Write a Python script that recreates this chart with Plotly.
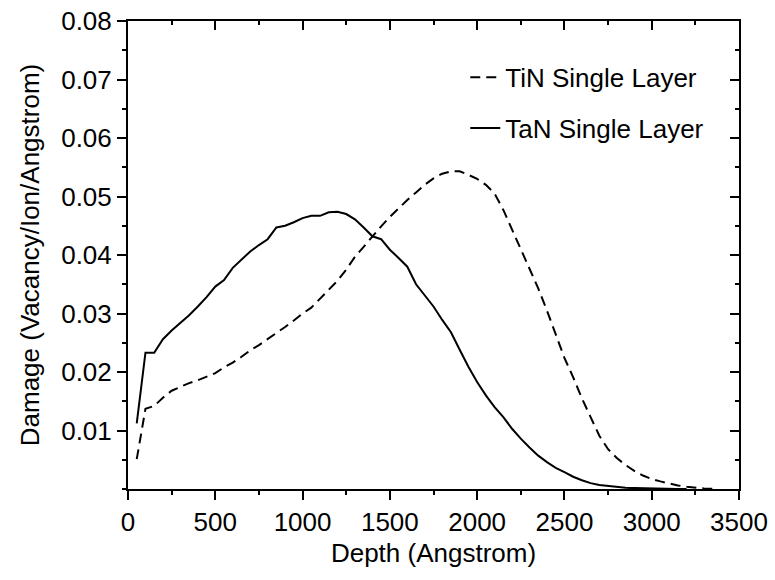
import plotly.graph_objects as go

depth = [50 * i for i in range(1, 68)]  # 50 .. 3350 Angstrom

tin = [0.0051, 0.0137, 0.0142, 0.0156, 0.0168, 0.0175, 0.0181, 0.0186, 0.0192, 0.0198,
       0.0208, 0.0216, 0.0226, 0.0237, 0.0246, 0.0256, 0.0266, 0.0277, 0.0288, 0.0300,
       0.0310, 0.0325, 0.0341, 0.0356, 0.0375, 0.0397, 0.0414, 0.0432, 0.0449, 0.0465,
       0.0480, 0.0494, 0.0507, 0.0520, 0.0531, 0.0539, 0.0543, 0.0543, 0.0537, 0.0530,
       0.0520, 0.0505, 0.0477, 0.0444, 0.0412, 0.0378, 0.0343, 0.0305, 0.0263, 0.0224,
       0.0191, 0.0155, 0.0123, 0.0091, 0.0068, 0.0053, 0.0041, 0.0031, 0.0023, 0.0017,
       0.0013, 0.0009, 0.0006, 0.0004, 0.0002, 0.0001, 0.00005]

tan_depth = [50 * i for i in range(1, 65)]  # 50 .. 3200 Angstrom
tan = [0.0112, 0.0233, 0.0233, 0.0256, 0.0271, 0.0284, 0.0297, 0.0312, 0.0328, 0.0346,
       0.0357, 0.0378, 0.0392, 0.0406, 0.0417, 0.0427, 0.0447, 0.0450, 0.0456, 0.0463,
       0.0467, 0.0467, 0.0473, 0.0474, 0.0470, 0.0461, 0.0447, 0.0432, 0.0427, 0.0409,
       0.0395, 0.0380, 0.0350, 0.0331, 0.0312, 0.0289, 0.0268, 0.0238, 0.0209, 0.0183,
       0.0160, 0.0140, 0.0123, 0.0103, 0.0086, 0.0071, 0.0057, 0.0046, 0.0036, 0.0029,
       0.0021, 0.0015, 0.0010, 0.0007, 0.0005, 0.0003, 0.0002, 0.00015, 0.0001, 0.00008,
       0.00005, 0.00003, 0.00002, 0.00001]

x_ticks = [0, 500, 1000, 1500, 2000, 2500, 3000, 3500]
y_ticks = [0.01, 0.02, 0.03, 0.04, 0.05, 0.06, 0.07, 0.08]
y_tick_labels = ["0.01", "0.02", "0.03", "0.04", "0.05", "0.06", "0.07", "0.08"]

FONT = "Arial, Liberation Sans, sans-serif"
FS = 26

fig = go.Figure()
fig.add_trace(go.Scatter(x=depth, y=tin, mode="lines", name="TiN Single Layer",
                         line=dict(color="black", width=2, dash="10px,6px"),
                         legendgroup="a"))
fig.add_trace(go.Scatter(x=tan_depth, y=tan, mode="lines", name="TaN Single Layer",
                         line=dict(color="black", width=2), legendgroup="b"))
# helper trace so the top/right frame axes are drawn
fig.add_trace(go.Scatter(x=[], y=[], xaxis="x2", yaxis="y2", showlegend=False,
                         hoverinfo="skip"))

fig.update_layout(
    width=775, height=580,
    margin=dict(l=128, r=36, t=21, b=91, autoexpand=False),
    paper_bgcolor="white", plot_bgcolor="white",
    font=dict(family=FONT, size=FS, color="black"),
    showlegend=True,
    legend=dict(x=0.552, y=0.93, xanchor="left", yanchor="top",
                font=dict(family=FONT, size=FS, color="black"),
                bgcolor="rgba(0,0,0,0)", tracegroupgap=14),
    xaxis=dict(range=[0, 3500], tickvals=x_ticks, ticks="outside", ticklen=9,
               tickwidth=2, tickcolor="black", showline=True, linewidth=2,
               linecolor="black", showgrid=False, zeroline=False,
               tickfont=dict(family=FONT, size=FS, color="black"),
               title=dict(text="Depth (Angstrom)", font=dict(family=FONT, size=FS),
                          standoff=8),
               minor=dict(dtick=250, ticks="outside", ticklen=4, tickwidth=2,
                          tickcolor="black", showgrid=False)),
    yaxis=dict(range=[0, 0.08], tickvals=y_ticks, ticktext=y_tick_labels,
               ticks="outside", ticklen=9, tickwidth=2, tickcolor="black",
               showline=True, linewidth=2, linecolor="black", showgrid=False,
               zeroline=False, tickfont=dict(family=FONT, size=FS, color="black"),
               title=dict(text="Damage (Vacancy/Ion/Angstrom)",
                          font=dict(family=FONT, size=FS), standoff=14),
               minor=dict(dtick=0.005, ticks="outside", ticklen=4, tickwidth=2,
                          tickcolor="black", showgrid=False)),
    xaxis2=dict(overlaying="x", side="top", range=[0, 3500], tickvals=x_ticks,
                ticks="inside", ticklen=9, tickwidth=2, tickcolor="black",
                showticklabels=False, showline=True, linewidth=2, linecolor="black",
                showgrid=False, zeroline=False,
                minor=dict(dtick=250, ticks="inside", ticklen=4, tickwidth=2,
                           tickcolor="black", showgrid=False)),
    yaxis2=dict(overlaying="y", side="right", range=[0, 0.08], tickvals=y_ticks,
                ticks="inside", ticklen=9, tickwidth=2, tickcolor="black",
                showticklabels=False, showline=True, linewidth=2, linecolor="black",
                showgrid=False, zeroline=False,
                minor=dict(dtick=0.005, ticks="inside", ticklen=4, tickwidth=2,
                           tickcolor="black", showgrid=False)),
)

fig.write_html("out.html")
